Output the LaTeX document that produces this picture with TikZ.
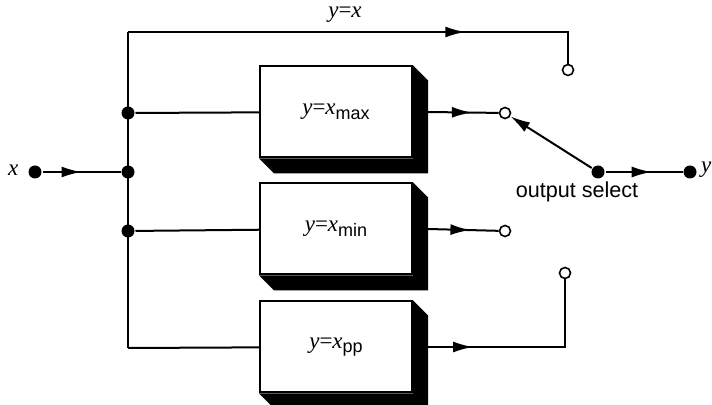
\documentclass[tikz,border=0pt]{standalone}
\usepackage{fontspec}
\setmainfont{Liberation Serif}
\setsansfont{Liberation Sans}
\usetikzlibrary{arrows.meta, decorations.markings}

\newcommand{\ysel}[1]{\textit{y}=\textit{x}\raisebox{-0.45ex}{\sffamily\small #1}}

\begin{document}
\begin{tikzpicture}[
    x=0.5pt, y=-0.5pt,
    line width=1pt,
    func/.style={rectangle, draw, fill=white, minimum width=76pt, minimum height=45.5pt, inner sep=0pt, font=\fontsize{11.5}{13}\selectfont},
    dot/.style={circle, fill, inner sep=0pt, minimum size=6.5pt},
    tap/.style={circle, draw, fill=white, inner sep=0pt, minimum size=5.5pt, line width=0.8pt},
    flow/.style={postaction={decorate}, decoration={markings, mark=at position #1 with {\arrow{Latex[length=10pt,width=5.5pt]}}}},
    tip/.style={-{Latex[length=10pt,width=5.5pt]}}
]
\useasboundingbox (0,0) rectangle (712,405);
% input and branch points
\node (xin) [dot] at (35,172) {};
\node (xlab) [anchor=east, font=\fontsize{11.5}{13}\selectfont] at (26,170) {\textit{x}};
\node (jmax) [dot] at (128,113) {};
\node (jin) [dot] at (128,172) {};
\node (jmin) [dot] at (128,231) {};
\coordinate (ctop) at (128,32);
\coordinate (cbot) at (128,348);
% processing blocks
\node (bmax) [func] at (336,112) {\ysel{max}};
\node (bmin) [func] at (336,229) {\ysel{min}};
\node (bpp) [func] at (336,347) {\ysel{pp}};
\foreach \b in {bmax,bmin,bpp}
  \fill (\b.north east) -- ([shift={(15,15)}]\b.north east) -- ([shift={(15,15)}]\b.south east)
    -- ([shift={(15,15)}]\b.south west) -- (\b.south west) -- (\b.south east) -- cycle;
% switch contacts
\node (tx) [tap] at (568,70) {};
\node (tmax) [tap] at (505,113) {};
\node (tmin) [tap] at (505,231) {};
\node (tpp) [tap] at (565,273) {};
\node (sw) [dot] at (598,172) {};
\node (yout) [dot] at (690,172) {};
% connections
\draw [flow=0.5] (xin) -- (jin);
\draw (ctop) -- (cbot);
\draw [flow=0.715] (ctop) -| (tx);
\draw (jmax) -- (bmax);
\draw (jmin) -- (bmin);
\draw (cbot) -- (bpp);
\draw [flow=0.62] ([xshift=7.5pt]bmax.east) -- (tmax);
\draw [flow=0.6] ([xshift=7.5pt]bmin.east) -- (tmin);
\draw [flow=0.22] ([xshift=7.5pt]bpp.east) -| (tpp);
\draw [tip] (sw) -- (tmax);
\draw [flow=0.6] (sw) -- (yout);
% labels
\node (lx) [font=\fontsize{11.5}{13}\selectfont] at (345,15) {\textit{y}=\textit{x}};
\node (ly) [anchor=west, inner sep=1pt, font=\fontsize{11.5}{13}\selectfont] at (698,170) {\textit{y}};
\node (lsel) [font=\sffamily\fontsize{10.8}{13}\selectfont] at (577,192) {output select};
\end{tikzpicture}
\end{document}
